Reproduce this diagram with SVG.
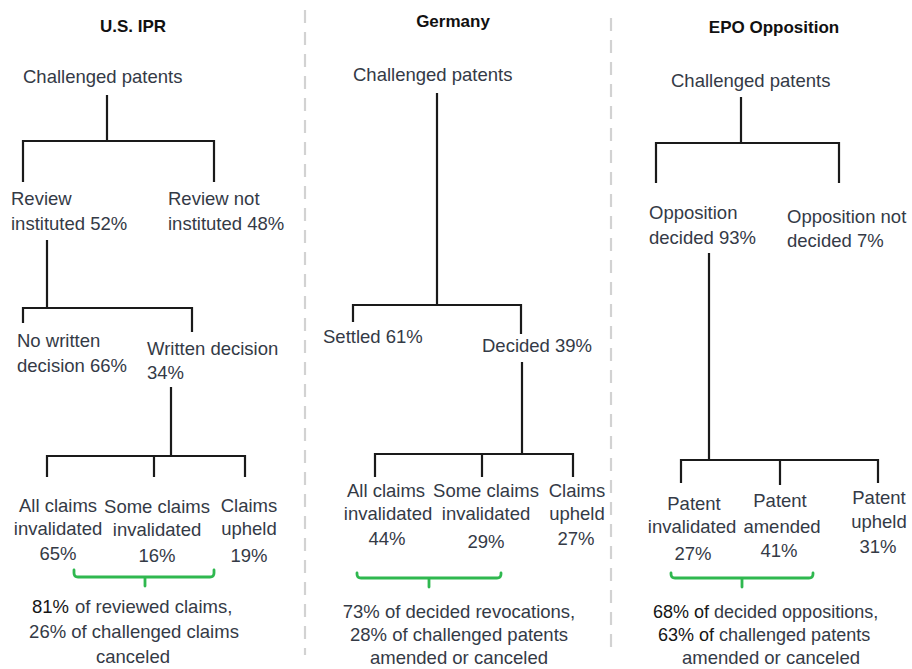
<svg xmlns="http://www.w3.org/2000/svg" width="912" height="669" viewBox="0 0 912 669">
<style>
text{font-family:"Liberation Sans",Arial,sans-serif;font-size:18.5px;fill:#343a46}
.t{font-weight:bold;font-size:17px;fill:#111}
.m{text-anchor:middle}
.k{fill:#151515}
.s{font-size:18px}
.c{fill:none;stroke:#1a1a1a;stroke-width:2.2;stroke-linejoin:miter}
.g{fill:none;stroke:#2fb84f;stroke-width:2.8;stroke-linecap:round;stroke-linejoin:round}
.sep{stroke:#d2d2d2;stroke-width:2.2;stroke-dasharray:13 9}
</style>
<rect width="912" height="669" fill="#fff"/>
<g id="separators">
<line class="sep" x1="305" y1="10" x2="305" y2="655"/>
<line class="sep" x1="611" y1="18" x2="611" y2="655"/>
</g>
<g id="connectors">
<path class="c" d="M107 95V141M23 182V141H214V182"/>
<path class="c" d="M47 240V308M23 323V308H192V332"/>
<path class="c" d="M171 387V456M47 477V456H245V477M154 456V477"/>
<path class="c" d="M437 93V305M353 322V305H521V334"/>
<path class="c" d="M522 362V454M375 477V454H573V477M482 454V477"/>
<path class="c" d="M741 97V143M656 183V143H839V183"/>
<path class="c" d="M709 253V460M681 483V460H878V483M780 460V485"/>
<path class="g" d="M74 570V573Q74 577 78 577H210Q214 577 214 573V570M145 577V586"/>
<path class="g" d="M357 573V574Q357 578 361 578H497Q501 578 501 574V573M429 578V587"/>
<path class="g" d="M671 573V574Q671 578 675 578H809Q813 578 813 574V573M742 578V587"/>
</g>
<g id="us-ipr">
<text class="t m" x="133" y="32">U.S. IPR</text>
<g id="us-root"><text x="23" y="83">Challenged patents</text></g>
<g id="us-instituted"><text x="11" y="205">Review</text><text x="11" y="230">instituted 52%</text></g>
<g id="us-not-instituted"><text x="168" y="205">Review not</text><text x="168" y="230">instituted 48%</text></g>
<g id="us-no-written"><text x="17" y="347">No written</text><text x="17" y="372">decision 66%</text></g>
<g id="us-written"><text x="147" y="355">Written decision</text><text x="147" y="379">34%</text></g>
<g id="us-all"><text class="m" x="58" y="512">All claims</text><text class="m" x="58" y="535">invalidated</text><text class="m" x="58" y="560">65%</text></g>
<g id="us-some"><text class="m" x="157" y="513">Some claims</text><text class="m" x="157" y="536">invalidated</text><text class="m" x="157" y="562">16%</text></g>
<g id="us-upheld"><text class="m" x="249" y="512">Claims</text><text class="m" x="249" y="535">upheld</text><text class="m" x="249" y="562">19%</text></g>
<g id="us-summary"><text class="k" x="32" y="613">81%</text><text x="75" y="613">of reviewed claims,</text><text class="m" x="134" y="638">26% of challenged claims</text><text class="m" x="133" y="663">canceled</text></g>
</g>
<g id="germany">
<text class="t m" x="453" y="27">Germany</text>
<g id="de-root"><text x="353" y="81">Challenged patents</text></g>
<g id="de-settled"><text x="323" y="343">Settled 61%</text></g>
<g id="de-decided"><text x="482" y="352">Decided 39%</text></g>
<g id="de-all"><text class="m" x="386" y="497">All claims</text><text class="m" x="388" y="520">invalidated</text><text class="m" x="387" y="545">44%</text></g>
<g id="de-some"><text class="m" x="486" y="497">Some claims</text><text class="m" x="486" y="520">invalidated</text><text class="m" x="486" y="548">29%</text></g>
<g id="de-upheld"><text class="m" x="577" y="497">Claims</text><text class="m" x="577" y="520">upheld</text><text class="m" x="576" y="545">27%</text></g>
<g id="de-summary"><text class="m" x="459" y="618">73% of decided revocations,</text><text class="m" x="459" y="641">28% of challenged patents</text><text class="m" x="459" y="664">amended or canceled</text></g>
</g>
<g id="epo">
<text class="t m" x="774" y="33">EPO Opposition</text>
<g id="epo-root"><text x="671" y="87">Challenged patents</text></g>
<g id="epo-decided"><text x="649" y="219">Opposition</text><text x="649" y="244">decided 93%</text></g>
<g id="epo-not-decided"><text x="787" y="223">Opposition not</text><text x="787" y="247">decided 7%</text></g>
<g id="epo-invalidated"><text class="m" x="694" y="510">Patent</text><text class="m" x="692" y="533">invalidated</text><text class="m" x="693" y="560">27%</text></g>
<g id="epo-amended"><text class="m" x="780" y="507">Patent</text><text class="m" x="782" y="533">amended</text><text class="m" x="779" y="557">41%</text></g>
<g id="epo-upheld"><text class="m" x="879" y="504">Patent</text><text class="m" x="879" y="528">upheld</text><text class="m" x="878" y="553">31%</text></g>
<g id="epo-summary"><text class="s" x="653" y="618"><tspan class="k">68% of</tspan> decided oppositions,</text><text class="s" x="658" y="641"><tspan class="k">63% of</tspan> challenged patents</text><text class="m" x="771" y="664">amended or canceled</text></g>
</g>
</svg>
